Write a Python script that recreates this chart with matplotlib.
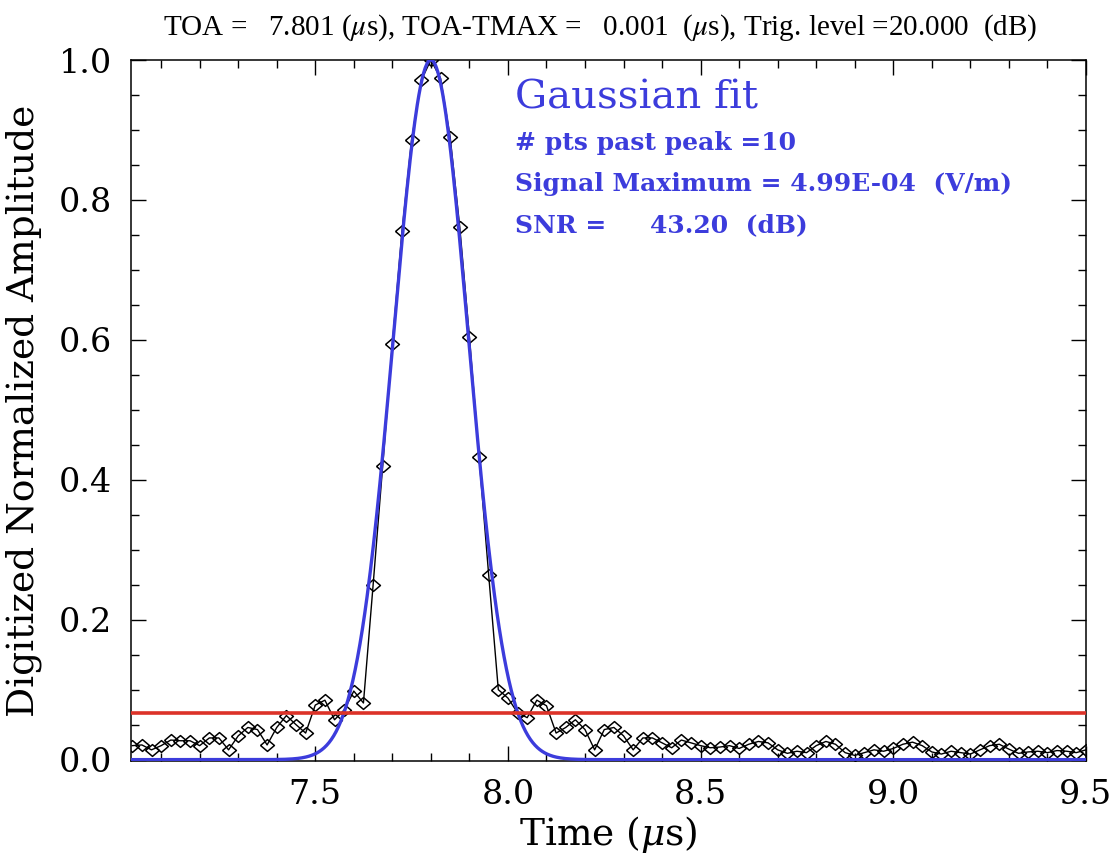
import numpy as np
import matplotlib
matplotlib.use("Agg")
import matplotlib.pyplot as plt
from matplotlib.ticker import MultipleLocator, FormatStrFormatter

# sampled waveform, 0.025 us spacing
t_start, t_step, n_pts = 7.025, 0.025, 100
amplitude = [
    0.020, 0.021, 0.014, 0.020, 0.028, 0.027, 0.027, 0.020, 0.031, 0.031,
    0.014, 0.034, 0.046, 0.043, 0.021, 0.046, 0.063, 0.050, 0.038, 0.078,
    0.085, 0.057, 0.071, 0.098, 0.081, 0.249, 0.420, 0.594, 0.755, 0.886,
    0.971, 1.000, 0.974, 0.890, 0.761, 0.604, 0.433, 0.264, 0.100, 0.088,
    0.067, 0.060, 0.085, 0.077, 0.038, 0.046, 0.057, 0.043, 0.014, 0.043,
    0.046, 0.034, 0.014, 0.031, 0.031, 0.024, 0.017, 0.028, 0.024, 0.020,
    0.017, 0.018, 0.020, 0.016, 0.022, 0.026, 0.024, 0.014, 0.009, 0.012,
    0.010, 0.020, 0.026, 0.022, 0.010, 0.006, 0.010, 0.014, 0.012, 0.016,
    0.022, 0.025, 0.020, 0.011, 0.008, 0.012, 0.010, 0.008, 0.014, 0.020,
    0.022, 0.015, 0.009, 0.011, 0.012, 0.010, 0.013, 0.012, 0.010, 0.014,
]
time_us = t_start + t_step * np.arange(n_pts)

# gaussian fit parameters
fit_center = 7.8
fit_sigma = 0.097
fit_amp = 1.0
trig_level = 0.066

x_min, x_max = 7.023, 9.5
x_ticks = [7.5, 8.0, 8.5, 9.0, 9.5]
y_ticks = [0.0, 0.2, 0.4, 0.6, 0.8, 1.0]

title_txt = (r"TOA =   7.801 ($\mu$s), TOA-TMAX =   0.001  ($\mu$s), "
             r"Trig. level =20.000  (dB)")
info_lines = ["# pts past peak =10",
              "Signal Maximum = 4.99E-04  (V/m)",
              "SNR =     43.20  (dB)"]

blue = "#3c3cdc"
red = "#dc3228"

# wide open diamond like the IDL psym
diamond = [(-1.0, 0.0), (0.0, 0.85), (1.0, 0.0), (0.0, -0.85), (-1.0, 0.0)]

fig = plt.figure(figsize=(11.17, 8.61), dpi=100)
ax = fig.add_axes([0.1177, 0.1161, 0.8545, 0.8142])

x_fit = np.linspace(x_min, x_max, 1200)
y_fit = fit_amp * np.exp(-(x_fit - fit_center) ** 2 / (2 * fit_sigma ** 2))

ax.plot(time_us, amplitude, color="black", lw=1.0, marker=diamond, ms=10,
        mfc="none", mec="black", mew=1.1, zorder=3)
ax.plot(x_fit, y_fit, color=blue, lw=2.4, zorder=4)
ax.axhline(trig_level, color=red, lw=2.6, zorder=5)

ax.set_xlim(x_min, x_max)
ax.set_ylim(-0.002, 1.0)
ax.set_xticks(x_ticks)
ax.set_yticks(y_ticks)
ax.xaxis.set_major_formatter(FormatStrFormatter("%.1f"))
ax.yaxis.set_major_formatter(FormatStrFormatter("%.1f"))
ax.xaxis.set_minor_locator(MultipleLocator(0.1))
ax.yaxis.set_minor_locator(MultipleLocator(0.05))
ax.tick_params(which="both", direction="in", top=True, right=True,
               labelsize=24, width=1.0)
ax.tick_params(which="major", length=11)
ax.tick_params(which="minor", length=6)
ax.tick_params(axis="x", which="major", pad=13)
ax.tick_params(axis="y", which="major", pad=14)
for lab in ax.get_xticklabels() + ax.get_yticklabels():
    lab.set_family("DejaVu Serif")
for sp in ax.spines.values():
    sp.set_linewidth(1.1)

ax.set_xlabel(r"Time ($\mu$s)", fontsize=27, family="DejaVu Serif",
              math_fontfamily="dejavuserif", labelpad=2)
ax.set_ylabel("Digitized Normalized Amplitude", fontsize=27,
              family="DejaVu Serif", labelpad=12)

fig.text(0.537, 0.9675, title_txt, ha="center", va="center", fontsize=21,
         family="Liberation Serif", math_fontfamily="stix")

ax.text(0.402, 0.946, "Gaussian fit", transform=ax.transAxes, color=blue,
        fontsize=29, family="DejaVu Serif", va="center")
for i, line in enumerate(info_lines):
    ax.text(0.402, 0.882 - i * 0.059, line, transform=ax.transAxes,
            color=blue, fontsize=18, family="DejaVu Serif",
            fontweight="bold", va="center")

fig.savefig("out.png", dpi=100)
